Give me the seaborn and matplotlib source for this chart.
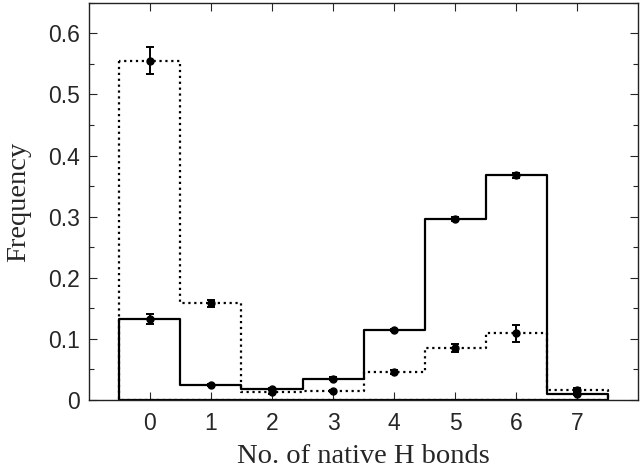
import numpy as np
import pandas as pd
import matplotlib
matplotlib.use("Agg")
import matplotlib.pyplot as plt
import seaborn as sns
from matplotlib.ticker import MultipleLocator

# data
hbonds = [0, 1, 2, 3, 4, 5, 6, 7]
freq_solid = [0.133, 0.025, 0.018, 0.035, 0.115, 0.296, 0.368, 0.010]
err_solid = [0.008, 0.002, 0.002, 0.002, 0.002, 0.003, 0.004, 0.002]
freq_dotted = [0.555, 0.158, 0.013, 0.015, 0.046, 0.085, 0.109, 0.017]
err_dotted = [0.022, 0.006, 0.003, 0.002, 0.003, 0.007, 0.014, 0.003]

df = pd.DataFrame({"hb": hbonds, "solid": freq_solid, "dotted": freq_dotted})

sns.set_style("ticks")
plt.rcParams["font.family"] = ["Liberation Sans", "DejaVu Sans"]

fig = plt.figure(figsize=(6.4, 4.69), dpi=100)
ax = fig.add_axes([0.139, 0.147, 0.858, 0.847])

# step outlines (filled polygon without face so the ends drop to zero)
sns.histplot(data=df, x="hb", weights="solid", discrete=True, element="step",
             fill=True, color="black", facecolor="none", edgecolor="black",
             linewidth=1.6, ax=ax)
sns.histplot(data=df, x="hb", weights="dotted", discrete=True, element="step",
             fill=True, color="black", facecolor="none", edgecolor="black",
             linewidth=1.6, linestyle=":", ax=ax)

ax.errorbar(hbonds, freq_solid, yerr=err_solid, fmt="o", color="black",
            markersize=5, capsize=3, elinewidth=1.4, capthick=1.4, zorder=3)
ax.errorbar(hbonds, freq_dotted, yerr=err_dotted, fmt="o", color="black",
            markersize=5, capsize=3, elinewidth=1.4, capthick=1.4, zorder=3)

ax.set_xlim(-1, 8)
ax.set_ylim(0, 0.65)
ax.set_xticks(hbonds)
ax.yaxis.set_minor_locator(MultipleLocator(0.05))
ax.set_yticks([0, 0.1, 0.2, 0.3, 0.4, 0.5, 0.6])
ax.set_yticklabels(["0", "0.1", "0.2", "0.3", "0.4", "0.5", "0.6"])
ax.tick_params(which="both", direction="in", top=True, right=True,
               labelsize=16.5)
ax.tick_params(axis="y", pad=6.5)
ax.tick_params(axis="x", pad=8.5)
ax.tick_params(which="major", length=6, width=0.8)
ax.tick_params(which="minor", length=3.5, width=0.8)
for s in ax.spines.values():
    s.set_linewidth(1.0)
    s.set_color("#222222")

ax.set_xlabel("No. of native H bonds", family="Liberation Serif",
              fontsize=20.5, labelpad=6.5)
ax.set_ylabel("Frequency", family="Liberation Serif", fontsize=20.5,
              labelpad=12)

fig.savefig("out.png", dpi=100)
